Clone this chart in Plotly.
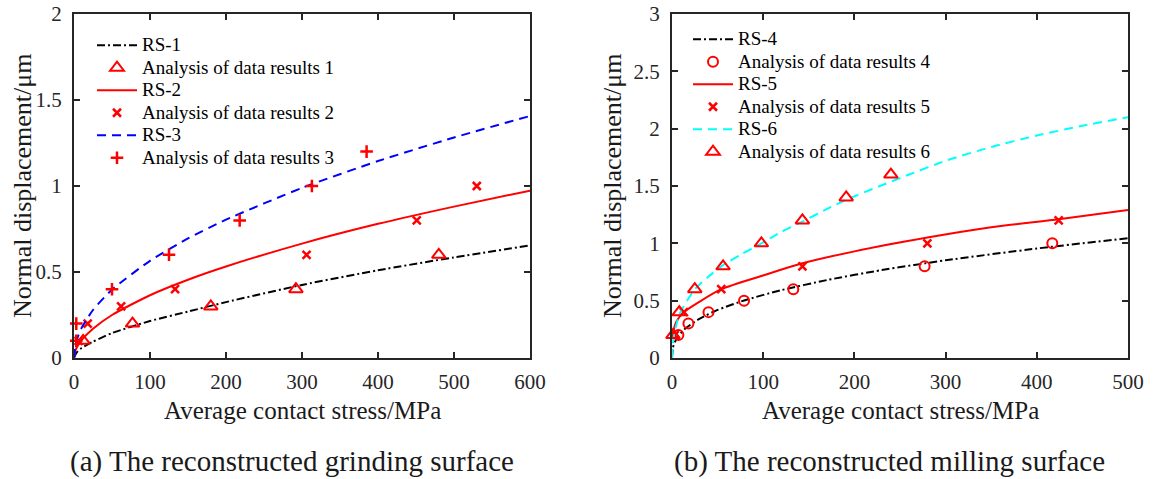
import plotly.graph_objects as go

W, H = 1164, 479

# ---------- (a) grinding surface ----------
rs1_x = [0, 2, 5, 10, 25, 50, 100, 150, 200, 300, 400, 500, 600]
rs1_y = [0, 0.02, 0.04, 0.058, 0.095, 0.145, 0.215, 0.27, 0.325, 0.425, 0.51, 0.585, 0.655]
rs2_x = [0, 2, 5, 10, 25, 50, 100, 150, 200, 300, 400, 500, 600]
rs2_y = [0, 0.045, 0.072, 0.104, 0.17, 0.25, 0.365, 0.455, 0.532, 0.665, 0.78, 0.88, 0.973]
rs3_x = [0, 2, 5, 10, 25, 50, 100, 150, 200, 300, 400, 500, 600]
rs3_y = [0, 0.077, 0.123, 0.175, 0.279, 0.397, 0.565, 0.695, 0.804, 0.989, 1.145, 1.282, 1.407]

a1_x = [12, 77, 180, 292, 480]
a1_y = [0.1, 0.2, 0.3, 0.4, 0.6]
a2_x = [6, 18, 62, 133, 306, 451, 530]
a2_y = [0.1, 0.2, 0.3, 0.4, 0.6, 0.8, 1.0]
a3_x = [3, 3, 50, 125, 218, 313, 385]
a3_y = [0.1, 0.2, 0.4, 0.6, 0.8, 1.0, 1.2]

# ---------- (b) milling surface ----------
rs4_x = [0, 1, 3, 7, 15, 30, 50, 80, 120, 170, 230, 300, 400, 500]
rs4_y = [0, 0.089, 0.137, 0.192, 0.259, 0.342, 0.419, 0.504, 0.592, 0.68, 0.767, 0.852, 0.955, 1.044]
rs5_x = [0, 1, 5, 13, 30, 54, 100, 143, 200, 280, 350, 424, 500]
rs5_y = [0.17, 0.22, 0.32, 0.4, 0.49, 0.6, 0.72, 0.826, 0.93, 1.05, 1.14, 1.21, 1.29]
rs6_x = [0, 1, 3, 8, 15, 25, 40, 56, 75, 98, 120, 143, 170, 191, 228, 260, 300, 350, 400, 450, 500]
rs6_y = [0, 0.13, 0.23, 0.38, 0.48, 0.6, 0.71, 0.81, 0.9, 1.0, 1.1, 1.19, 1.3, 1.38, 1.5, 1.6,
         1.72, 1.84, 1.94, 2.025, 2.1]

a4_x = [7, 18, 40, 79, 133, 277, 417]
a4_y = [0.2, 0.3, 0.4, 0.5, 0.6, 0.8, 1.0]
a5_x = [3, 13, 54, 143, 280, 424]
a5_y = [0.2, 0.4, 0.6, 0.8, 1.0, 1.2]
a6_x = [1, 8, 25, 56, 98, 143, 191, 240]
a6_y = [0.2, 0.4, 0.6, 0.8, 1.0, 1.2, 1.4, 1.6]

left_xticks = [0, 100, 200, 300, 400, 500, 600]
left_yticks = [0, 0.5, 1, 1.5, 2]
left_yticklabels = ["0", "0.5", "1", "1.5", "2"]
right_xticks = [0, 100, 200, 300, 400, 500]
right_yticks = [0, 0.5, 1, 1.5, 2, 2.5, 3]
right_yticklabels = ["0", "0.5", "1", "1.5", "2", "2.5", "3"]

FONT = "Liberation Serif, Times New Roman, serif"
RED = "#ff0000"
LEGTXT = "<span style='font-size:19px'>%s</span>"

fig = go.Figure()


def line(x, y, name, color, dash, xa, ya, leg):
    fig.add_trace(go.Scatter(x=x, y=y, mode="lines", name=LEGTXT % name,
                             line=dict(color=color, width=2, dash=dash, shape="spline", smoothing=0.6),
                             xaxis=xa, yaxis=ya, legend=leg))


def pts(x, y, name, symbol, size, lw, xa, ya, leg):
    fig.add_trace(go.Scatter(x=x, y=y, mode="markers", name=LEGTXT % name, cliponaxis=False,
                             marker=dict(symbol=symbol, size=size, color=RED,
                                         line=dict(color=RED, width=lw)),
                             xaxis=xa, yaxis=ya, legend=leg))


DASHDOT = "8px,3px,2px,3px"
DASH = "9px,6px"

line(rs1_x, rs1_y, "RS-1", "black", DASHDOT, "x", "y", "legend")
pts(a1_x, a1_y, "Analysis of data results 1", "triangle-up-open", 12, 2, "x", "y", "legend")
line(rs2_x, rs2_y, "RS-2", RED, "solid", "x", "y", "legend")
pts(a2_x, a2_y, "Analysis of data results 2", "x-thin-open", 8, 2.5, "x", "y", "legend")
line(rs3_x, rs3_y, "RS-3", "#0000ff", DASH, "x", "y", "legend")
pts(a3_x, a3_y, "Analysis of data results 3", "cross-thin-open", 9, 2.5, "x", "y", "legend")

line(rs4_x, rs4_y, "RS-4", "black", DASHDOT, "x2", "y2", "legend2")
pts(a4_x, a4_y, "Analysis of data results 4", "circle-open", 10, 2, "x2", "y2", "legend2")
line(rs5_x, rs5_y, "RS-5", RED, "solid", "x2", "y2", "legend2")
pts(a5_x, a5_y, "Analysis of data results 5", "x-thin-open", 8, 2.5, "x2", "y2", "legend2")
line(rs6_x, rs6_y, "RS-6", "#00ffff", DASH, "x2", "y2", "legend2")
pts(a6_x, a6_y, "Analysis of data results 6", "triangle-up-open", 12, 2, "x2", "y2", "legend2")

ybot = (H - 358) / H
ytop = (H - 14) / H
AXC = "#262626"
axcommon = dict(showline=True, linecolor=AXC, linewidth=2, mirror="ticks", ticks="inside",
                ticklen=6, tickwidth=1.5, tickcolor=AXC, showgrid=False, zeroline=False,
                tickfont=dict(family=FONT, size=21, color=AXC), automargin=False)

legcommon = dict(font=dict(family=FONT, size=15, color="black"), bgcolor="rgba(0,0,0,0)",
                 borderwidth=0, xanchor="left", yanchor="top", tracegroupgap=0,
                 itemwidth=40, traceorder="normal")

fig.update_layout(
    width=W, height=H, margin=dict(l=0, r=0, t=0, b=0),
    paper_bgcolor="white", plot_bgcolor="white",
    xaxis=dict(domain=[74 / W, 530 / W], range=[0, 600], tickvals=left_xticks, anchor="y",
               ticklabelstandoff=4, **axcommon),
    yaxis=dict(domain=[ybot, ytop], range=[0, 2], tickvals=left_yticks, ticktext=left_yticklabels,
               anchor="x", ticklabelstandoff=6, **axcommon),
    xaxis2=dict(domain=[672 / W, 1128 / W], range=[0, 500], tickvals=right_xticks, anchor="y2",
                ticklabelstandoff=4, **axcommon),
    yaxis2=dict(domain=[ybot, ytop], range=[0, 3], tickvals=right_yticks, ticktext=right_yticklabels,
                anchor="x2", ticklabelstandoff=6, **axcommon),
    legend=dict(x=92 / W, y=(H - 29) / H, **legcommon),
    legend2=dict(x=688 / W, y=(H - 23) / H, **legcommon),
    showlegend=True,
)

ann = [
    dict(text="Normal displacement/μm", x=22 / W, y=(H - 186) / H, textangle=-90, size=26),
    dict(text="Normal displacement/μm", x=612 / W, y=(H - 186) / H, textangle=-90, size=26),
    dict(text="Average contact stress/MPa", x=302 / W, y=(H - 410) / H, textangle=0, size=25),
    dict(text="Average contact stress/MPa", x=900 / W, y=(H - 410) / H, textangle=0, size=25),
    dict(text="(a) The reconstructed grinding surface", x=292 / W, y=(H - 461) / H, textangle=0, size=29),
    dict(text="(b) The reconstructed milling surface", x=890 / W, y=(H - 461) / H, textangle=0, size=29),
]
for a in ann:
    fig.add_annotation(text=a["text"], x=a["x"], y=a["y"], xref="paper", yref="paper",
                       xanchor="center", yanchor="middle", showarrow=False, textangle=a["textangle"],
                       font=dict(family=FONT, size=a["size"], color="#1a1a1a"))

fig.write_html("out.html")
